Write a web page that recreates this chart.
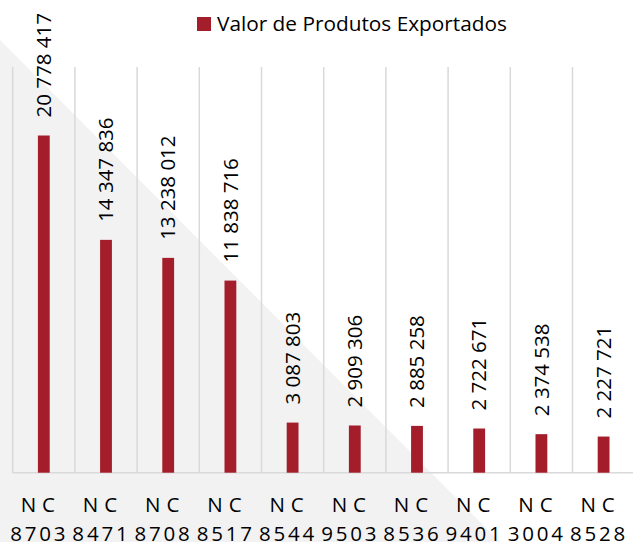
<!DOCTYPE html>
<html>
<head>
<meta charset="utf-8">
<script src="https://cdn.jsdelivr.net/npm/d3@7"></script>
<style>
  body { margin: 0; background: #fff; }
  svg { display: block; font-family: "Open Sans", sans-serif; }
</style>
</head>
<body>
<div id="chart"></div>
<script>
const categories = ["NC 8703", "NC 8471", "NC 8708", "NC 8517", "NC 8544",
  "NC 9503", "NC 8536", "NC 9401", "NC 3004", "NC 8528"];
const values = [20778417, 14347836, 13238012, 11838716, 3087803,
  2909306, 2885258, 2722671, 2374538, 2227721];
const seriesName = "Valor de Produtos Exportados";

const width = 633;
const height = 542;
const margin = { top: 67, left: 12.7, bottom: 69.3 };
const plotRight = 634.7;
const barColor = "#A31D2B";
const gridColor = "#D9D9D9";

const data = categories.map((c, i) => ({ name: c, value: values[i] }));

const svg = d3
  .select("#chart")
  .append("svg")
  .attr("width", width)
  .attr("height", height);

// background decoration (light grey triangle)
svg
  .append("polygon")
  .attr("points", "0,40 0,542 500,542")
  .attr("fill", "#F2F2F2");

const x = d3
  .scaleBand()
  .domain(categories)
  .range([margin.left, plotRight])
  .padding(0);

const y = d3
  .scaleLinear()
  .domain([0, 25000000])
  .range([height - margin.bottom, margin.top]);

const barW = x.bandwidth() * 0.19;

// vertical gridlines at category boundaries
const bounds = categories.map((c) => x(c)).concat([x(categories[9]) + x.bandwidth()]);
svg
  .append("g")
  .selectAll("line")
  .data(bounds)
  .join("line")
  .attr("x1", (d) => d)
  .attr("x2", (d) => d)
  .attr("y1", y(25000000))
  .attr("y2", y(0))
  .attr("stroke", gridColor)
  .attr("stroke-width", 1.5);

// baseline
svg
  .append("line")
  .attr("x1", margin.left)
  .attr("x2", plotRight)
  .attr("y1", y(0))
  .attr("y2", y(0))
  .attr("stroke", gridColor)
  .attr("stroke-width", 1.5);

// bars
svg
  .append("g")
  .selectAll("rect")
  .data(data)
  .join("rect")
  .attr("x", (d) => x(d.name) + x.bandwidth() / 2 - barW / 2)
  .attr("y", (d) => y(d.value))
  .attr("width", barW)
  .attr("height", (d) => y(0) - y(d.value))
  .attr("fill", barColor);

// value labels (rotated)
const fmt = (v) => d3.format(",")(v).replace(/,/g, " ");
svg
  .append("g")
  .selectAll("text")
  .data(data)
  .join("text")
  .attr("transform", (d) =>
    `translate(${x(d.name) + x.bandwidth() / 2},${y(d.value) - 18}) rotate(-90)`)
  .attr("dy", "0.35em")
  .attr("font-size", 20.5)
  .attr("fill", "#000")
  .text((d) => fmt(d.value));

// category labels
const ls = 2.8;
const xl = svg
  .append("g")
  .attr("text-anchor", "middle")
  .attr("font-size", 20.5)
  .attr("fill", "#000")
  .selectAll("text")
  .data(categories)
  .join("text")
  .attr("transform", (d) => `translate(${x(d) + x.bandwidth() / 2 - 6},0)`);

xl.append("tspan")
  .attr("x", 3)
  .attr("y", 511.7)
  .attr("letter-spacing", 6)
  .text((d) => d.split(" ")[0]);

xl.append("tspan")
  .attr("x", ls / 2)
  .attr("y", 541)
  .attr("letter-spacing", ls)
  .text((d) => d.split(" ")[1]);

// legend
const legend = svg.append("g");
legend
  .append("rect")
  .attr("x", 197)
  .attr("y", 17)
  .attr("width", 14)
  .attr("height", 14)
  .attr("fill", barColor);
legend
  .append("text")
  .attr("x", 217)
  .attr("y", 31)
  .attr("font-size", 20.8)
  .attr("fill", "#000")
  .text(seriesName);
</script>
</body>
</html>
